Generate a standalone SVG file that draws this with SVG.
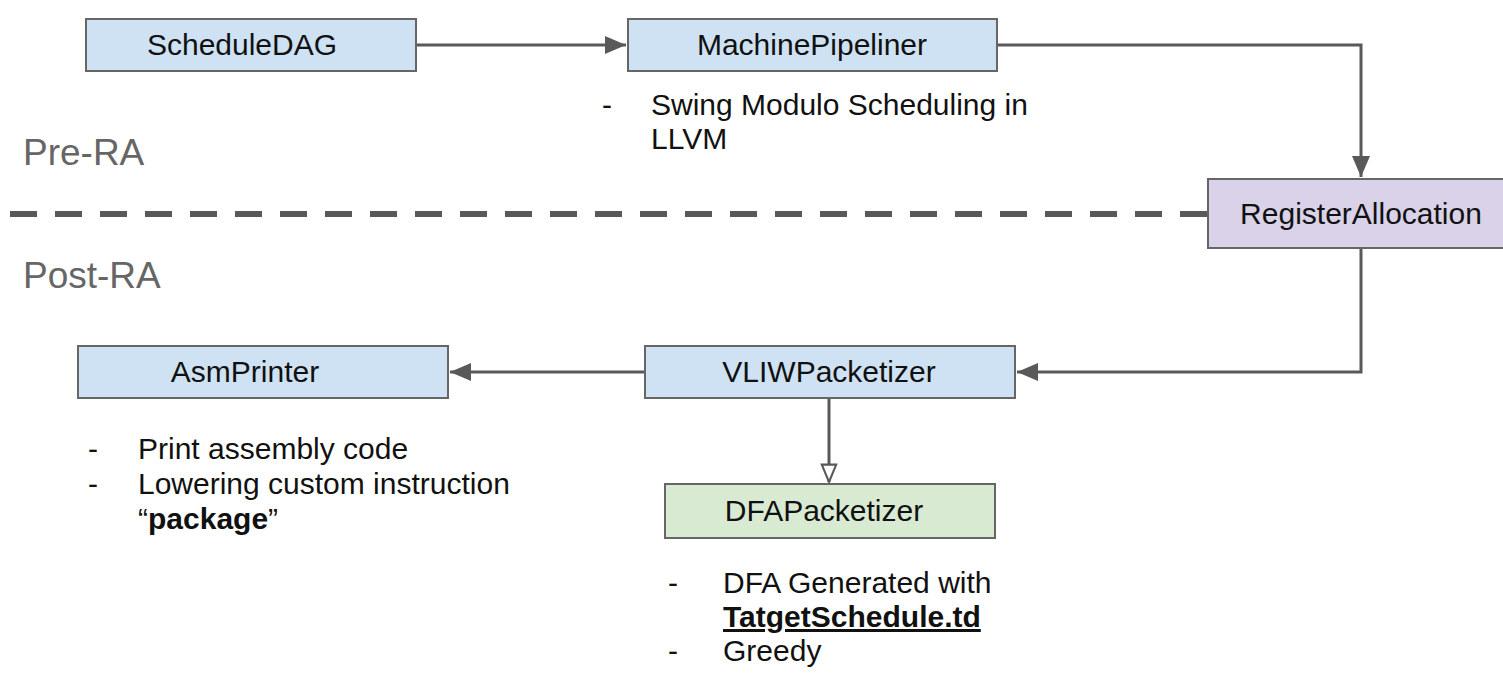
<svg xmlns="http://www.w3.org/2000/svg" width="1503" height="674" viewBox="0 0 1503 674">
<style>
.box{stroke:#666666;stroke-width:2}
.blue{fill:#cfe2f3}
.purple{fill:#d9d2e9}
.green{fill:#d9ead3}
.lbl{font-family:"Liberation Sans",Arial,sans-serif;font-size:30px;fill:#111111;text-anchor:middle}
.note{font-family:"Liberation Sans",Arial,sans-serif;font-size:30px;fill:#111111}
.side{font-family:"Liberation Sans",Arial,sans-serif;font-size:37px;fill:#666666}
.edge{fill:none;stroke:#595959;stroke-width:3}
</style>
<defs>
<marker id="arr" markerWidth="7" markerHeight="6" refX="7" refY="3" orient="auto" markerUnits="strokeWidth">
<path d="M0,0 L7,3 L0,6 Z" fill="#595959"/>
</marker>
<marker id="hollow" markerWidth="7" markerHeight="6" refX="6.3" refY="3" orient="auto" markerUnits="strokeWidth">
<path d="M0.5,0.6 L6.3,3 L0.5,5.4 Z" fill="#ffffff" stroke="#595959" stroke-width="0.7"/>
</marker>
</defs>
<rect width="1503" height="674" fill="#ffffff"/>
<text class="side" x="23" y="165">Pre-RA</text>
<text class="side" x="23" y="288">Post-RA</text>
<line x1="10" y1="214" x2="1208" y2="214" stroke="#595959" stroke-width="6" stroke-dasharray="27 18"/>
<g id="connectors">
<path class="edge" d="M416,45 L626,45" marker-end="url(#arr)"/>
<path class="edge" d="M997,45 L1361,45 L1361,177" marker-end="url(#arr)"/>
<path class="edge" d="M1361,249 L1361,372 L1017,372" marker-end="url(#arr)"/>
<path class="edge" d="M645,372 L450,372" marker-end="url(#arr)"/>
<path class="edge" d="M829,398 L829,482" marker-end="url(#hollow)"/>
</g>
<g id="ScheduleDAG">
<rect class="box blue" x="86" y="19" width="330" height="52"/>
<text class="lbl" x="242" y="55">ScheduleDAG</text>
</g>
<g id="MachinePipeliner">
<rect class="box blue" x="628" y="19" width="369" height="52"/>
<text class="lbl" x="812" y="55">MachinePipeliner</text>
<text class="note" x="602" y="115">-</text>
<text class="note" x="651" y="115">Swing Modulo Scheduling in</text>
<text class="note" x="651" y="149">LLVM</text>
</g>
<g id="RegisterAllocation">
<rect class="box purple" x="1208" y="179" width="310" height="69"/>
<text class="lbl" x="1361" y="224">RegisterAllocation</text>
</g>
<g id="VLIWPacketizer">
<rect class="box blue" x="645" y="346" width="370" height="52"/>
<text class="lbl" x="829" y="382">VLIWPacketizer</text>
</g>
<g id="AsmPrinter">
<rect class="box blue" x="78" y="346" width="370" height="52"/>
<text class="lbl" x="245" y="382">AsmPrinter</text>
<text class="note" x="88" y="459">-</text>
<text class="note" x="138" y="459">Print assembly code</text>
<text class="note" x="88" y="494">-</text>
<text class="note" x="138" y="494">Lowering custom instruction</text>
<text class="note" x="138" y="529">“<tspan font-weight="bold">package</tspan>”</text>
</g>
<g id="DFAPacketizer">
<rect class="box green" x="665" y="484" width="330" height="54"/>
<text class="lbl" x="824" y="521">DFAPacketizer</text>
<text class="note" x="668" y="593">-</text>
<text class="note" x="723" y="593">DFA Generated with</text>
<text class="note" x="723" y="627" font-weight="bold" text-decoration="underline">TatgetSchedule.td</text>
<text class="note" x="668" y="661">-</text>
<text class="note" x="723" y="661">Greedy</text>
</g>
</svg>
